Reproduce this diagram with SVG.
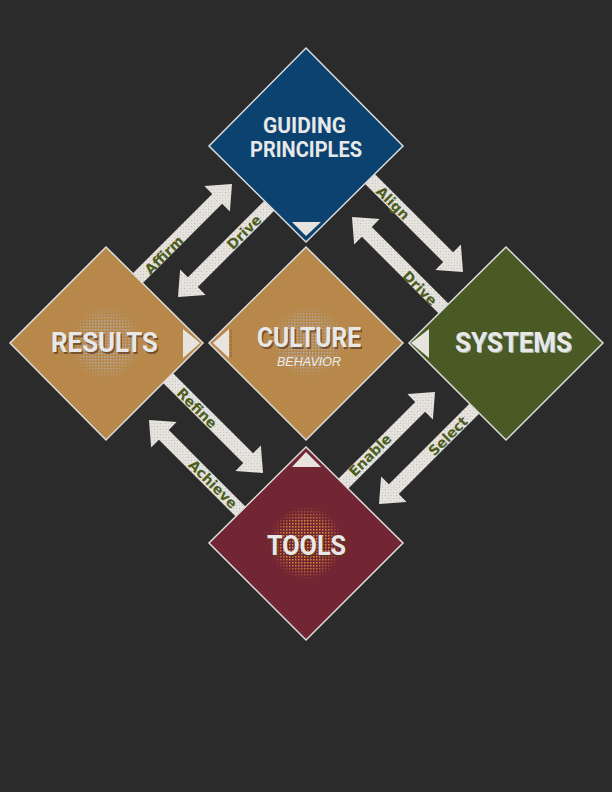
<svg xmlns="http://www.w3.org/2000/svg" width="612" height="792" viewBox="0 0 612 792">
<defs>
<style>
.dia{stroke:#dcdcdc;stroke-width:1.5}
.title{font-family:Roboto,"Liberation Sans",sans-serif;font-weight:bold;fill:#e8e8e8;text-anchor:middle}
.shadow{fill:#5a3a22;opacity:0.7}
.lbl{font-family:"DejaVu Sans","Liberation Sans",sans-serif;font-weight:bold;font-size:14px;fill:#4d5e22;text-anchor:middle}
.arrow{fill:#e7e4e0}
.arrowdots{fill:url(#dots)}
.tri{fill:#e7e4e0}
</style>
<pattern id="dots" width="4" height="4" patternUnits="userSpaceOnUse">
<rect x="1" y="1" width="1" height="1" fill="#9f9a93" opacity="0.7"/>
<rect x="3" y="3" width="1" height="1" fill="#b5b0a8" opacity="0.5"/>
</pattern>
<pattern id="grayDots" width="3" height="3" patternUnits="userSpaceOnUse">
<rect x="1" y="1" width="1.5" height="1.5" fill="#b0afb8"/>
</pattern>
<pattern id="orangeDots" width="3" height="3" patternUnits="userSpaceOnUse">
<rect x="1" y="1" width="1.5" height="1.5" fill="#eaa038"/>
</pattern>
<radialGradient id="haloGrad">
<stop offset="0" stop-color="#fff" stop-opacity="1"/>
<stop offset="0.65" stop-color="#fff" stop-opacity="0.85"/>
<stop offset="1" stop-color="#fff" stop-opacity="0"/>
</radialGradient>
<mask id="halo" maskUnits="userSpaceOnUse" x="-40" y="-40" width="80" height="80">
<circle cx="0" cy="0" r="37" fill="url(#haloGrad)"/>
</mask>
<path id="arr" d="M0,0 L-21,-18 L-21,-7 L-142,-7 L-142,7 L-21,7 L-21,18 Z"/>
</defs>
<rect width="612" height="792" fill="#2b2b2b"/>

<g id="connectors">
<g transform="translate(232,184) rotate(-45)"><use href="#arr" class="arrow"/><use href="#arr" class="arrowdots"/></g>
<g transform="translate(178,297) rotate(135)"><use href="#arr" class="arrow"/><use href="#arr" class="arrowdots"/></g>
<g transform="translate(463,272) rotate(45)"><use href="#arr" class="arrow"/><use href="#arr" class="arrowdots"/></g>
<g transform="translate(352,217) rotate(225)"><use href="#arr" class="arrow"/><use href="#arr" class="arrowdots"/></g>
<g transform="translate(263,473) rotate(45)"><use href="#arr" class="arrow"/><use href="#arr" class="arrowdots"/></g>
<g transform="translate(149,420) rotate(225)"><use href="#arr" class="arrow"/><use href="#arr" class="arrowdots"/></g>
<g transform="translate(435,392) rotate(-45)"><use href="#arr" class="arrow"/><use href="#arr" class="arrowdots"/></g>
<g transform="translate(379,504) rotate(135)"><use href="#arr" class="arrow"/><use href="#arr" class="arrowdots"/></g>
<text class="lbl" transform="translate(164,255) rotate(-45)" dy="0.36em">Affirm</text>
<text class="lbl" transform="translate(244,232) rotate(-45)" dy="0.36em">Drive</text>
<text class="lbl" transform="translate(393,203) rotate(45)" dy="0.36em">Align</text>
<text class="lbl" transform="translate(420,288) rotate(45)" dy="0.36em">Drive</text>
<text class="lbl" transform="translate(197,408) rotate(45)" dy="0.36em">Refine</text>
<text class="lbl" transform="translate(213,484) rotate(45)" dy="0.36em">Achieve</text>
<text class="lbl" transform="translate(370,455) rotate(-45)" dy="0.36em">Enable</text>
<text class="lbl" transform="translate(448,436) rotate(-45)" dy="0.36em">Select</text>
</g>

<g id="guiding-principles">
<polygon points="306,48 403,146 306,242 209,146" fill="#0b4270" class="dia"/>
<polygon points="292,222 321,222 306,236" class="tri"/>
<text class="title" x="304.5" y="133" font-size="22" textLength="83" lengthAdjust="spacingAndGlyphs">GUIDING</text>
<text class="title" x="306" y="157" font-size="22" textLength="112" lengthAdjust="spacingAndGlyphs">PRINCIPLES</text>
</g>

<g id="results">
<polygon points="106,247 203,343 106,440 10,343" fill="#b8884a" class="dia"/>
<g transform="translate(106,343)"><circle r="37" fill="url(#grayDots)" mask="url(#halo)"/></g>
<polygon points="183,329 200,343 183,358" class="tri"/>
<text class="title shadow" x="106" y="353.5" font-size="28" textLength="107" lengthAdjust="spacingAndGlyphs">RESULTS</text>
<text class="title" x="104.5" y="352" font-size="28" textLength="107" lengthAdjust="spacingAndGlyphs">RESULTS</text>
</g>

<g id="culture">
<polygon points="306,247 403,343 306,440 209,343" fill="#b8884a" class="dia"/>
<g transform="translate(308,342)"><circle r="37" fill="url(#grayDots)" mask="url(#halo)"/></g>
<polygon points="229,329 213,343 229,358" class="tri"/>
<line x1="231" y1="330" x2="231" y2="358" stroke="#8a3a2a" stroke-width="1" stroke-dasharray="1,1"/>
<text class="title shadow" x="310.5" y="348.5" font-size="28" textLength="104" lengthAdjust="spacingAndGlyphs">CULTURE</text>
<text class="title" x="309" y="347" font-size="28" textLength="104" lengthAdjust="spacingAndGlyphs">CULTURE</text>
<text x="309" y="366" font-family="'Liberation Sans',sans-serif" font-style="italic" font-size="13" fill="#ececec" text-anchor="middle" textLength="64" lengthAdjust="spacingAndGlyphs">BEHAVIOR</text>
</g>

<g id="systems">
<polygon points="506,247 603,343 506,440 409,343" fill="#4a5a25" class="dia"/>
<polygon points="429,329 411,343 429,358" class="tri"/>
<text class="title" x="514.5" y="353" font-size="28" fill="#8a6a30" opacity="0.6" textLength="117" lengthAdjust="spacingAndGlyphs">SYSTEMS</text>
<text class="title" x="513.5" y="352" font-size="28" textLength="117" lengthAdjust="spacingAndGlyphs">SYSTEMS</text>
</g>

<g id="tools">
<polygon points="306,447 403,543 306,640 209,543" fill="#722532" class="dia"/>
<g transform="translate(306,543)"><circle r="37" fill="url(#orangeDots)" mask="url(#halo)"/></g>
<polygon points="292,467 321,467 306,452" class="tri"/>
<text class="title shadow" x="308" y="556.5" font-size="28" textLength="79" lengthAdjust="spacingAndGlyphs">TOOLS</text>
<text class="title" x="306.5" y="555" font-size="28" textLength="79" lengthAdjust="spacingAndGlyphs">TOOLS</text>
</g>
</svg>
